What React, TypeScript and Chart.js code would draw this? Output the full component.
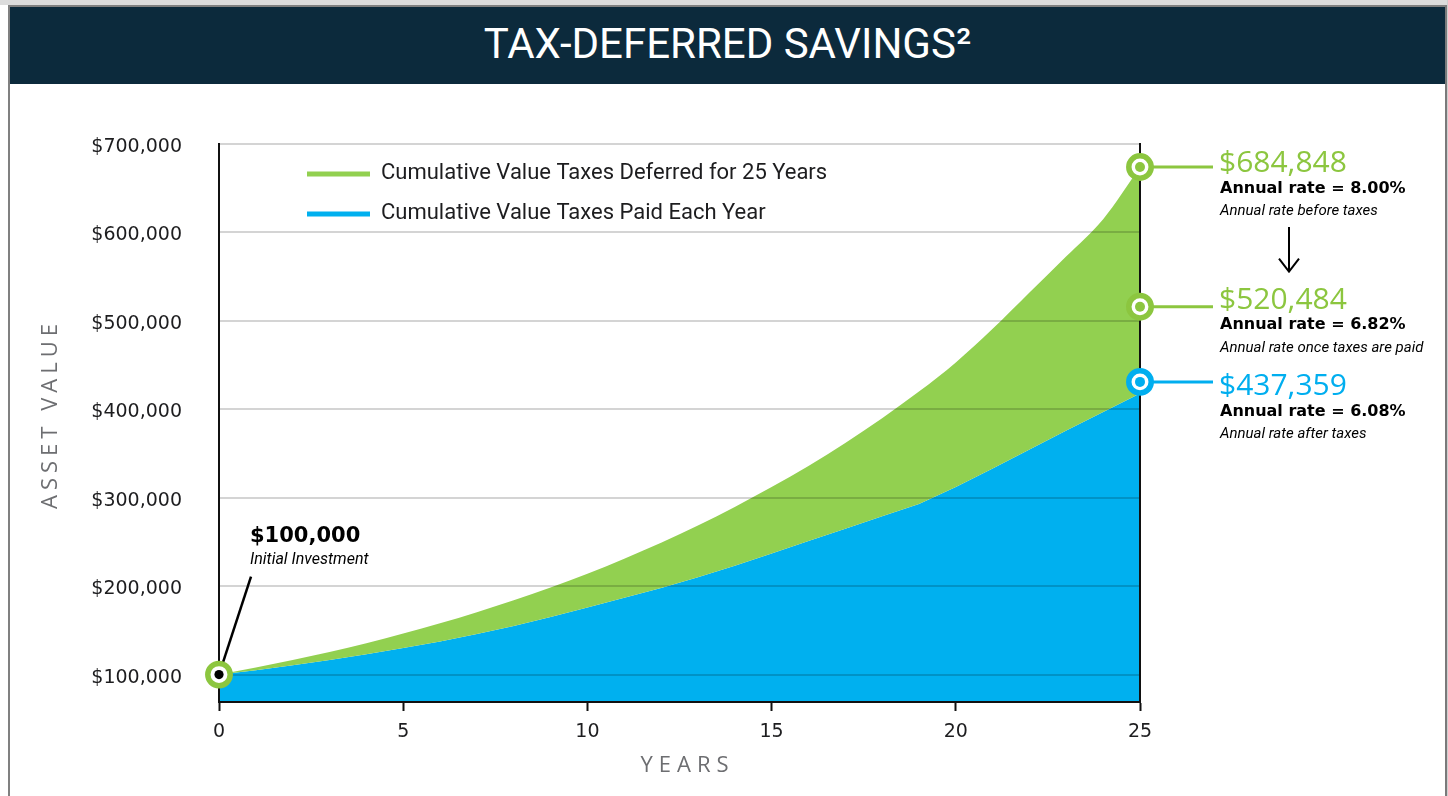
import { useEffect, useRef } from "react";
import { Chart, registerables } from "chart.js";

Chart.register(...registerables);

// ---------- data ----------
const years = [0, 1, 2, 3, 4, 5, 6, 7, 8, 9, 10, 11, 12, 13, 14, 15, 16, 17, 18, 19, 20, 21, 22, 23, 24, 25];
const deferredValues = [
  100000, 108000, 116500, 125500, 135500, 146500, 158000, 170500, 184000, 198500,
  214000, 231000, 249000, 268500, 289500, 312000, 336000, 362000, 390000, 420000,
  453000, 491000, 532000, 573000, 615000, 674000,
];
const paidValues = [
  100000, 105000, 110500, 116500, 123000, 130000, 137500, 146000, 155000, 165000,
  176000, 187000, 198000, 210000, 223000, 237000, 251000, 265000, 279000, 293000,
  312000, 333000, 354500, 376000, 397000, 418000,
];
const seriesLabels = ["Cumulative Value Taxes Deferred for 25 Years", "Cumulative Value Taxes Paid Each Year"];
const yTickValues = [100000, 200000, 300000, 400000, 500000, 600000, 700000];
const xTickValues = [0, 5, 10, 15, 20, 25];

const initialValue = 100000;
const initialLabel = "$100,000";
const initialNote = "Initial Investment";

const endMarkerValues = [674000, 516000, 431000];
const endValueLabels = ["$684,848", "$520,484", "$437,359"];
const endRateLabels = ["Annual rate = 8.00%", "Annual rate = 6.82%", "Annual rate = 6.08%"];
const endNoteLabels = ["Annual rate before taxes", "Annual rate once taxes are paid", "Annual rate after taxes"];

// ---------- styles ----------
const GREEN_FILL = "#92d050";
const GREEN = "#8cc63f";
const BLUE_FILL = "#00b0ef";
const BLUE = "#00aeef";
const NAVY = "#0c2a3c";
const INK = "#1d1d1f";
const AXIS_GRAY = "#6d6e71";
const TICK_FONT = "'DejaVu Sans'";

const endColors = [GREEN, GREEN, BLUE];
const valueDy = [-4, -6, 5];
const rateDy = [22, 18, 30];
const noteDy = [44, 42, 52];

function drawRing(ctx: CanvasRenderingContext2D, x: number, y: number, color: string, dot: string, dotR: number) {
  ctx.beginPath();
  ctx.arc(x, y, 11.2, 0, Math.PI * 2);
  ctx.fillStyle = "#fff";
  ctx.fill();
  ctx.lineWidth = 5.5;
  ctx.strokeStyle = color;
  ctx.stroke();
  ctx.beginPath();
  ctx.arc(x, y, dotR, 0, Math.PI * 2);
  ctx.fillStyle = dot;
  ctx.fill();
}

const overlayPlugin = {
  id: "overlay",
  afterDraw(chart: any) {
    const { ctx, chartArea, scales } = chart;
    const xs = scales.x;
    const ys = scales.y;
    ctx.save();

    // right frame line
    ctx.strokeStyle = "#111";
    ctx.lineWidth = 2;
    ctx.beginPath();
    ctx.moveTo(chartArea.right, chartArea.top - 1);
    ctx.lineTo(chartArea.right, chartArea.bottom);
    ctx.stroke();

    // legend
    const lx = chartArea.left + 88;
    chart.data.datasets.forEach((ds: any, i: number) => {
      const y = chartArea.top + 30 + i * 40;
      ctx.strokeStyle = ds.backgroundColor;
      ctx.lineWidth = 5;
      ctx.beginPath();
      ctx.moveTo(lx, y);
      ctx.lineTo(lx + 63, y);
      ctx.stroke();
      ctx.fillStyle = INK;
      ctx.font = "22px Roboto";
      ctx.textAlign = "left";
      ctx.textBaseline = "middle";
      ctx.fillText(ds.label, lx + 74, y - 1);
    });

    // initial investment
    const ix = xs.getPixelForValue(0);
    const iy = ys.getPixelForValue(initialValue);
    ctx.strokeStyle = "#000";
    ctx.lineWidth = 2.5;
    ctx.beginPath();
    ctx.moveTo(ix, iy);
    ctx.lineTo(ix + 32, iy - 98);
    ctx.stroke();
    drawRing(ctx, ix, iy, GREEN, "#000", 4.6);
    ctx.fillStyle = "#000";
    ctx.textAlign = "left";
    ctx.textBaseline = "middle";
    ctx.font = "bold 21px 'DejaVu Sans'";
    ctx.fillText(initialLabel, ix + 31, iy - 138);
    ctx.font = "italic 16px Roboto";
    ctx.fillText(initialNote, ix + 31, iy - 115);

    // end markers
    const ex = chartArea.right;
    const ringYs = endMarkerValues.map((v) => ys.getPixelForValue(v));
    ringYs.forEach((ry: number, i: number) => {
      const c = endColors[i];
      ctx.strokeStyle = c;
      ctx.lineWidth = 3;
      ctx.beginPath();
      ctx.moveTo(ex + 12, ry);
      ctx.lineTo(ex + 73, ry);
      ctx.stroke();
      drawRing(ctx, ex, ry, c, c, 5);
      ctx.textAlign = "left";
      ctx.textBaseline = "middle";
      ctx.fillStyle = c;
      ctx.font = "30px 'Open Sans'";
      ctx.fillText(endValueLabels[i], ex + 79, ry + valueDy[i]);
      ctx.fillStyle = "#000";
      ctx.font = "bold 16px 'DejaVu Sans'";
      ctx.fillText(endRateLabels[i], ex + 80, ry + rateDy[i]);
      ctx.font = "italic 15px Roboto";
      ctx.fillText(endNoteLabels[i], ex + 80, ry + noteDy[i]);
    });

    // arrow between first two
    const ax = ex + 149;
    const aTop = ringYs[0] + 60;
    const aBot = ringYs[1] - 35;
    ctx.strokeStyle = "#000";
    ctx.lineWidth = 2;
    ctx.beginPath();
    ctx.moveTo(ax, aTop);
    ctx.lineTo(ax, aBot);
    ctx.moveTo(ax - 10, aBot - 13);
    ctx.lineTo(ax, aBot);
    ctx.lineTo(ax + 10, aBot - 13);
    ctx.stroke();

    // axis titles
    ctx.fillStyle = AXIS_GRAY;
    ctx.textBaseline = "alphabetic";
    ctx.textAlign = "center";
    ctx.font = "22px 'Open Sans'";
    (ctx as any).letterSpacing = "6px";
    ctx.fillText("YEARS", (chartArea.left + chartArea.right) / 2 + 8, chartArea.bottom + 70);
    (ctx as any).letterSpacing = "5px";
    ctx.translate(57, (chartArea.top + chartArea.bottom) / 2 - 7);
    ctx.rotate(-Math.PI / 2);
    ctx.font = "22px 'Open Sans'";
    ctx.fillText("ASSET VALUE", 2, 0);
    (ctx as any).letterSpacing = "0px";
    ctx.restore();
  },
};

export default function App() {
  const canvasRef = useRef<HTMLCanvasElement>(null);

  useEffect(() => {
    const canvas = canvasRef.current;
    if (!canvas) return;
    const chart = new Chart(canvas, {
      type: "line",
      data: {
        datasets: [
          {
            label: seriesLabels[0],
            data: years.map((x, i) => ({ x, y: deferredValues[i] })),
            backgroundColor: GREEN_FILL,
            borderColor: "transparent",
            borderWidth: 0,
            pointRadius: 0,
            fill: "+1",
            cubicInterpolationMode: "monotone",
          },
          {
            label: seriesLabels[1],
            data: years.map((x, i) => ({ x, y: paidValues[i] })),
            backgroundColor: BLUE_FILL,
            borderColor: "transparent",
            borderWidth: 0,
            pointRadius: 0,
            fill: "start",
            tension: 0,
          },
        ],
      },
      options: {
        responsive: false,
        devicePixelRatio: 1,
        animation: false,
        events: [],
        layout: { padding: { left: 0, right: 308, top: 144, bottom: 0 } },
        plugins: { legend: { display: false }, tooltip: { enabled: false } },
        scales: {
          x: {
            type: "linear",
            min: 0,
            max: 25,
            afterBuildTicks: (scale: any) => {
              scale.ticks = xTickValues.map((v) => ({ value: v }));
            },
            afterFit: (scale: any) => {
              scale.height = 94;
            },
            grid: {
              z: 1,
              drawOnChartArea: false,
              drawTicks: true,
              tickLength: 9,
              tickWidth: 2,
              tickColor: "#111",
            },
            border: { display: true, color: "#111", width: 2, z: 1 },
            ticks: {
              z: 1,
              padding: 10,
              color: INK,
              font: { family: TICK_FONT, size: 19 },
              maxRotation: 0,
              callback: (v: any) => String(v),
            },
          },
          y: {
            type: "linear",
            min: 69000,
            max: 700000,
            afterBuildTicks: (scale: any) => {
              scale.ticks = yTickValues.map((v) => ({ value: v }));
            },
            afterFit: (scale: any) => {
              scale.width = 219;
            },
            grid: {
              z: 1,
              color: "rgba(0,0,0,0.17)",
              lineWidth: 2,
              drawTicks: false,
            },
            border: { display: true, color: "#111", width: 2, z: 1 },
            ticks: {
              z: 1,
              padding: 37,
              labelOffset: 3,
              color: INK,
              font: { family: TICK_FONT, size: 19 },
              callback: (v: any) => "$" + Number(v).toLocaleString("en-US"),
            },
          },
        },
      },
      plugins: [overlayPlugin],
    } as any);
    return () => chart.destroy();
  }, []);

  return (
    <div
      style={{
        position: "fixed",
        left: 0,
        top: 0,
        width: 1448,
        height: 796,
        background: "#fff",
        overflow: "hidden",
      }}
    >
      <div style={{ position: "absolute", left: 0, top: 0, width: 1448, height: 5, background: "#dcdcdc" }} />
      <div style={{ position: "absolute", left: 8, top: 5, width: 1438, height: 2, background: "#808080" }} />
      <div style={{ position: "absolute", left: 8, top: 5, width: 2, height: 791, background: "#808080" }} />
      <div style={{ position: "absolute", left: 1445, top: 5, width: 2, height: 791, background: "#7a7a7a" }} />
      <div style={{ position: "absolute", left: 1447, top: 0, width: 1, height: 796, background: "#cfcfcf" }} />
      <canvas
        ref={canvasRef}
        width={1448}
        height={796}
        style={{ position: "absolute", left: 0, top: 0, width: 1448, height: 796 }}
      />
      <div
        style={{
          position: "absolute",
          left: 10,
          top: 7,
          width: 1435,
          height: 77,
          background: NAVY,
          color: "#fff",
          fontFamily: "Roboto, sans-serif",
          fontSize: 42,
          lineHeight: "74px",
          textAlign: "center",
          whiteSpace: "nowrap",
        }}
      >
        TAX-DEFERRED SAVINGS²
      </div>
    </div>
  );
}
